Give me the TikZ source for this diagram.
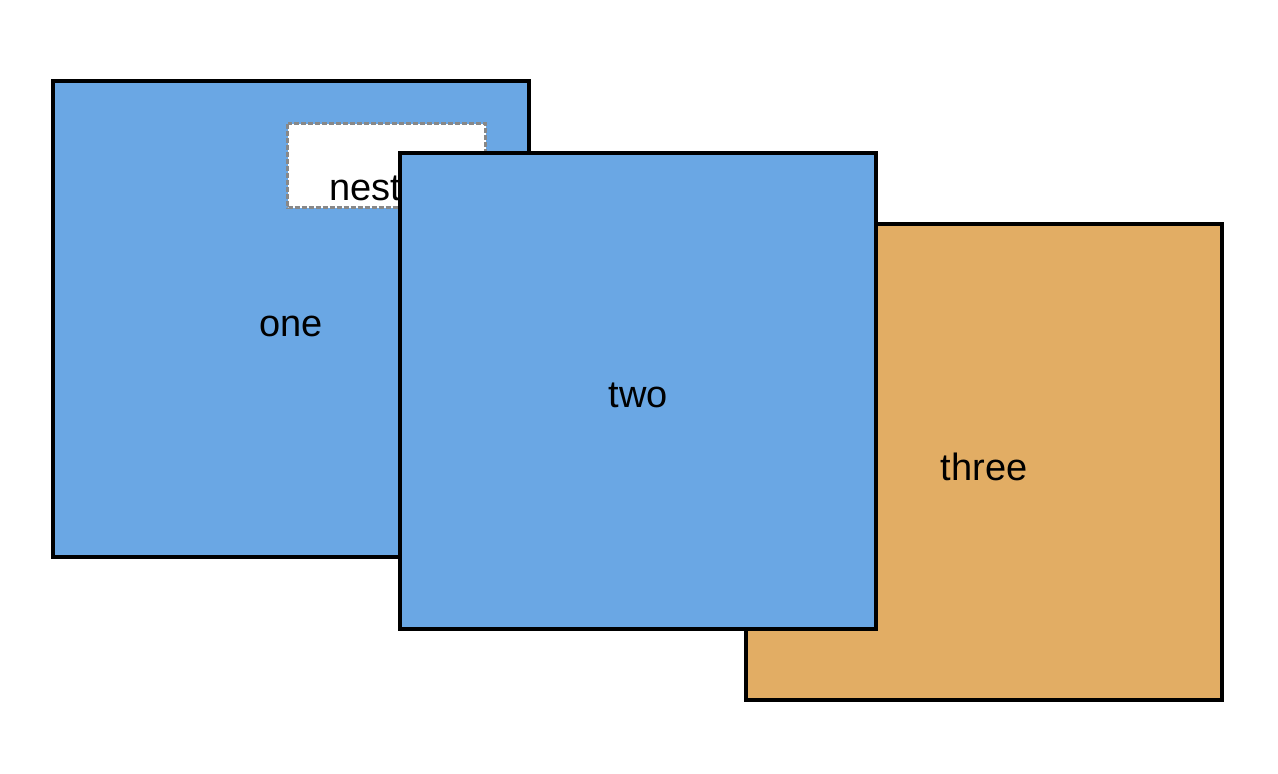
\documentclass[tikz,border=0pt]{standalone}
\usepackage{fontspec}
\setmainfont{Liberation Sans}
\definecolor{boxblue}{HTML}{6AA7E4}
\definecolor{boxorange}{HTML}{E2AD64}
\definecolor{dashgrey}{HTML}{888888}
\begin{document}
\begin{tikzpicture}[x=1pt,y=-1pt,
  panel/.style={draw=black,line width=3.5pt},
  nestbox/.style={draw=dashgrey,fill=white,line width=3pt,dash pattern=on 5pt off 2pt},
  lbl/.style={anchor=base,inner sep=0pt,font=\fontsize{38}{44}\selectfont}]
\useasboundingbox (0,0) rectangle (1278,774);
% box one
\draw[panel,fill=boxblue] (53,81) rectangle (529,557);
\node[lbl] (one) at (291,336) {one};
% nested box
\draw[nestbox] (287.5,123.5) rectangle (485.5,207.5);
\node[lbl] (nested) at (386.5,200) {nested};
% box three
\draw[panel,fill=boxorange] (746,224) rectangle (1222,700);
\node[lbl] (three) at (984,480) {three};
% box two
\draw[panel,fill=boxblue] (400,153) rectangle (876,629);
\node[lbl] (two) at (638,407) {two};
\end{tikzpicture}
\end{document}
